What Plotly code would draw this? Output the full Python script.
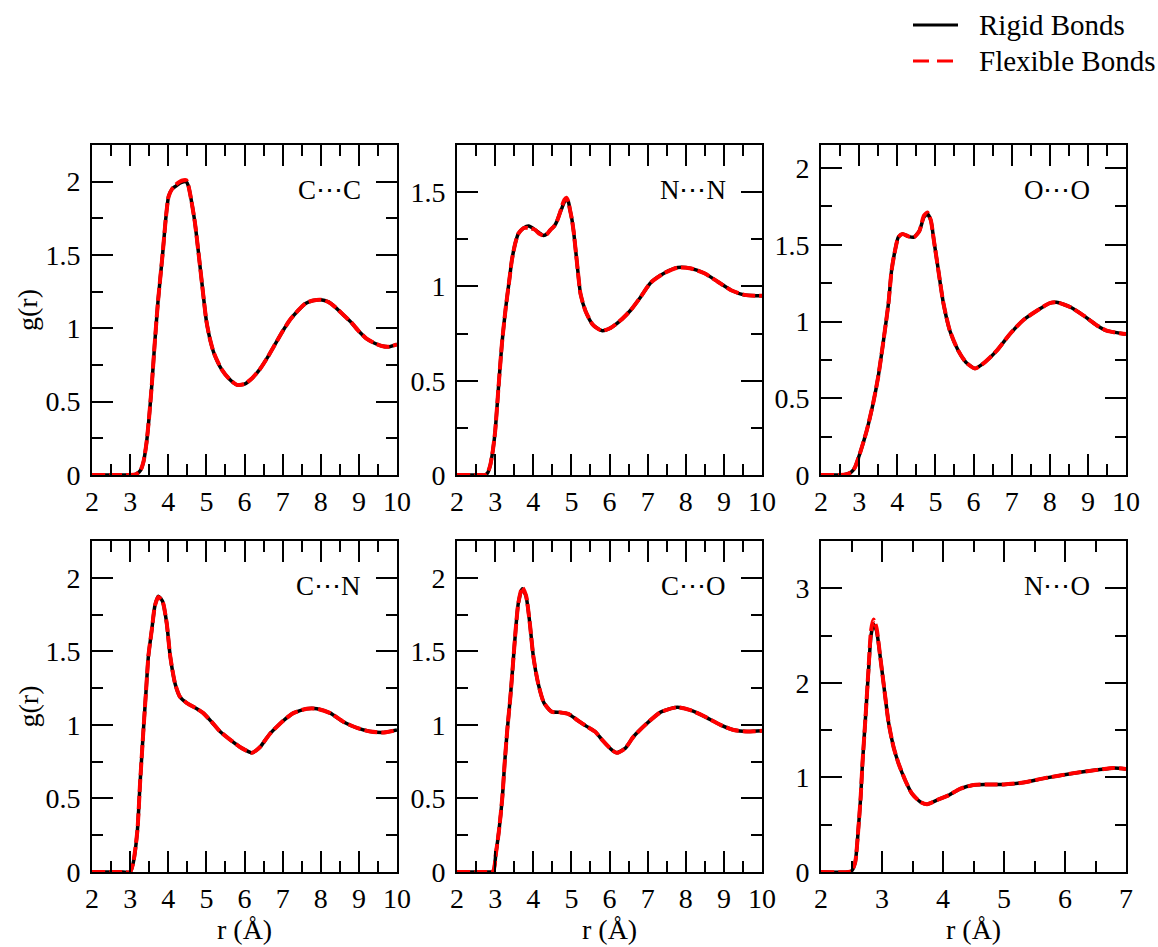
import plotly.graph_objects as go

# ---------------- data ----------------
panel_labels = ["C⋯C", "N⋯N", "O⋯O", "C⋯N", "C⋯O", "N⋯O"]

r_cc = [2.0, 2.6, 3.0, 3.15, 3.27, 3.35, 3.43, 3.5, 3.57, 3.64, 3.73, 3.85, 3.94, 4.01, 4.1, 4.2, 4.3, 4.4, 4.47,
        4.53, 4.6, 4.7, 4.8, 4.9, 5.0, 5.1, 5.2, 5.4, 5.6, 5.8, 6.0, 6.2, 6.4, 6.6, 6.8, 7.0, 7.2, 7.4, 7.6, 7.8,
        8.0, 8.2, 8.4, 8.6, 8.8, 9.0, 9.2, 9.4, 9.6, 9.8, 10.0]
g_cc_rigid = [0, 0, 0, 0.005, 0.03, 0.09, 0.22, 0.40, 0.62, 0.88, 1.18, 1.50, 1.76, 1.90, 1.95, 1.97, 1.99, 2.0, 2.0,
              1.97, 1.88, 1.72, 1.50, 1.27, 1.05, 0.92, 0.83, 0.72, 0.655, 0.615, 0.62, 0.66, 0.72, 0.80, 0.89, 0.98,
              1.06, 1.12, 1.17, 1.19, 1.195, 1.18, 1.14, 1.09, 1.04, 0.98, 0.93, 0.90, 0.88, 0.875, 0.89]
g_cc_flex = [0, 0, 0, 0.005, 0.03, 0.09, 0.22, 0.40, 0.62, 0.88, 1.18, 1.50, 1.76, 1.90, 1.95, 1.98, 2.0, 2.01, 2.01,
             1.97, 1.88, 1.72, 1.50, 1.27, 1.05, 0.92, 0.83, 0.72, 0.655, 0.615, 0.62, 0.66, 0.72, 0.80, 0.89, 0.98,
             1.06, 1.12, 1.17, 1.19, 1.195, 1.18, 1.14, 1.09, 1.04, 0.98, 0.93, 0.90, 0.88, 0.875, 0.89]

r_nn = [2.0, 2.6, 2.74, 2.8, 2.87, 2.94, 3.0, 3.09, 3.18, 3.28, 3.37, 3.44, 3.53, 3.61, 3.75, 3.88, 4.05, 4.15, 4.27,
        4.37, 4.45, 4.55, 4.63, 4.7, 4.76, 4.82, 4.87, 4.92, 4.96, 5.01, 5.06, 5.15, 5.24, 5.37, 5.55, 5.7, 5.81,
        6.03, 6.29, 6.56, 6.82, 7.08, 7.43, 7.79, 8.14, 8.49, 8.84, 9.19, 9.54, 10.0]
g_nn_rigid = [0, 0, 0, 0.01, 0.05, 0.13, 0.23, 0.47, 0.70, 0.89, 1.03, 1.14, 1.23, 1.28, 1.31, 1.32, 1.30, 1.285,
              1.27, 1.28, 1.30, 1.32, 1.35, 1.39, 1.42, 1.45, 1.46, 1.45, 1.41, 1.36, 1.29, 1.12, 0.96, 0.87, 0.80,
              0.775, 0.765, 0.78, 0.82, 0.875, 0.945, 1.02, 1.07, 1.10, 1.095, 1.07, 1.025, 0.98, 0.955, 0.95]
g_nn_flex = [0, 0, 0, 0.01, 0.05, 0.13, 0.23, 0.47, 0.70, 0.89, 1.03, 1.14, 1.23, 1.28, 1.31, 1.31, 1.30, 1.28,
             1.27, 1.28, 1.30, 1.32, 1.35, 1.39, 1.43, 1.46, 1.47, 1.45, 1.41, 1.36, 1.29, 1.12, 0.96, 0.87, 0.80,
             0.775, 0.765, 0.78, 0.82, 0.875, 0.945, 1.02, 1.07, 1.10, 1.095, 1.07, 1.025, 0.98, 0.955, 0.95]

r_oo = [2.0, 2.5, 2.67, 2.8, 2.89, 3.02, 3.2, 3.37, 3.5, 3.63, 3.77, 3.85, 3.94, 4.03, 4.14, 4.29, 4.44, 4.58, 4.7,
        4.79, 4.88, 4.96, 5.08, 5.21, 5.38, 5.6, 5.8, 6.04, 6.26, 6.61, 6.96, 7.31, 7.66, 8.0, 8.18, 8.53, 8.88,
        9.23, 9.49, 9.93, 10.0]
g_oo_rigid = [0, 0, 0.005, 0.02, 0.05, 0.14, 0.29, 0.47, 0.64, 0.86, 1.12, 1.33, 1.46, 1.55, 1.57, 1.555, 1.55,
              1.59, 1.68, 1.70, 1.66, 1.53, 1.33, 1.12, 0.94, 0.81, 0.735, 0.694, 0.727, 0.81, 0.92, 1.01, 1.07,
              1.12, 1.125, 1.095, 1.04, 0.976, 0.94, 0.92, 0.918]
g_oo_flex = [0, 0, 0.005, 0.02, 0.05, 0.14, 0.29, 0.47, 0.64, 0.86, 1.12, 1.33, 1.46, 1.55, 1.57, 1.555, 1.55,
             1.59, 1.69, 1.71, 1.66, 1.53, 1.33, 1.12, 0.94, 0.81, 0.735, 0.694, 0.727, 0.81, 0.92, 1.01, 1.07,
             1.12, 1.125, 1.095, 1.04, 0.976, 0.94, 0.92, 0.918]

r_cn = [2.0, 2.8, 3.0, 3.08, 3.19, 3.26, 3.35, 3.42, 3.48, 3.57, 3.65, 3.74, 3.85, 3.96, 4.05, 4.18, 4.31, 4.48,
        4.75, 4.92, 5.14, 5.36, 5.62, 5.88, 6.05, 6.19, 6.3, 6.41, 6.67, 6.98, 7.28, 7.63, 7.9, 8.25, 8.6, 8.95,
        9.3, 9.65, 10.0]
g_cn_rigid = [0, 0, 0, 0.06, 0.28, 0.60, 0.97, 1.24, 1.47, 1.65, 1.81, 1.875, 1.84, 1.69, 1.47, 1.28, 1.19, 1.15,
              1.11, 1.08, 1.02, 0.955, 0.90, 0.85, 0.825, 0.81, 0.825, 0.85, 0.94, 1.02, 1.08, 1.11, 1.11, 1.08,
              1.02, 0.98, 0.955, 0.948, 0.965]
g_cn_flex = [0, 0, 0, 0.06, 0.28, 0.60, 0.97, 1.24, 1.47, 1.65, 1.81, 1.87, 1.84, 1.69, 1.47, 1.28, 1.19, 1.15,
             1.11, 1.08, 1.02, 0.955, 0.90, 0.85, 0.825, 0.81, 0.825, 0.85, 0.94, 1.02, 1.08, 1.11, 1.11, 1.08,
             1.02, 0.98, 0.955, 0.948, 0.965]

r_co = [2.0, 2.8, 2.95, 3.02, 3.1, 3.19, 3.25, 3.32, 3.4, 3.47, 3.54, 3.61, 3.71, 3.81, 3.91, 4.0, 4.13, 4.28,
        4.48, 4.7, 4.92, 5.14, 5.4, 5.62, 5.8, 6.06, 6.19, 6.41, 6.63, 6.98, 7.33, 7.77, 8.12, 8.47, 8.91, 9.26,
        9.61, 10.0]
g_co_rigid = [0, 0, 0.005, 0.125, 0.28, 0.51, 0.74, 0.97, 1.19, 1.42, 1.65, 1.83, 1.925, 1.875, 1.69, 1.47, 1.28,
              1.15, 1.09, 1.085, 1.075, 1.035, 0.99, 0.955, 0.90, 0.83, 0.81, 0.84, 0.92, 1.01, 1.085, 1.12, 1.10,
              1.06, 1.0, 0.965, 0.955, 0.96]
g_co_flex = [0, 0, 0.005, 0.125, 0.28, 0.51, 0.74, 0.97, 1.19, 1.42, 1.65, 1.83, 1.935, 1.88, 1.69, 1.47, 1.28,
             1.15, 1.09, 1.085, 1.075, 1.035, 0.99, 0.955, 0.90, 0.83, 0.81, 0.84, 0.92, 1.01, 1.085, 1.12, 1.10,
             1.06, 1.0, 0.965, 0.955, 0.96]

r_no = [2.0, 2.45, 2.5, 2.56, 2.61, 2.65, 2.68, 2.73, 2.78, 2.82, 2.86, 2.91, 2.97, 3.04, 3.11, 3.19, 3.27,
        3.38, 3.49, 3.63, 3.74, 3.9, 4.09, 4.28, 4.5, 4.72, 5.0, 5.32, 5.65, 6.09, 6.53, 6.8, 7.0]
g_no_rigid = [0, 0, 0.01, 0.1, 0.44, 0.79, 1.15, 1.64, 2.14, 2.50, 2.62, 2.55, 2.28, 1.92, 1.57, 1.32, 1.15,
              0.97, 0.83, 0.74, 0.717, 0.76, 0.81, 0.88, 0.92, 0.925, 0.925, 0.946, 0.99, 1.04, 1.08, 1.10, 1.09]
g_no_flex = [0, 0, 0.01, 0.1, 0.44, 0.79, 1.15, 1.64, 2.16, 2.55, 2.67, 2.58, 2.28, 1.92, 1.57, 1.32, 1.15,
             0.97, 0.83, 0.74, 0.717, 0.76, 0.81, 0.88, 0.92, 0.925, 0.925, 0.946, 0.99, 1.04, 1.08, 1.10, 1.09]

series_names = ["Rigid Bonds", "Flexible Bonds"]
series_colors = ["black", "#ff0000"]
series_dash = ["solid", "16px,8px"]
panels = [
    (r_cc, g_cc_rigid, g_cc_flex),
    (r_nn, g_nn_rigid, g_nn_flex),
    (r_oo, g_oo_rigid, g_oo_flex),
    (r_cn, g_cn_rigid, g_cn_flex),
    (r_co, g_co_rigid, g_co_flex),
    (r_no, g_no_rigid, g_no_flex),
]
x_ranges = [[2, 10], [2, 10], [2, 10], [2, 10], [2, 10], [2, 7]]
y_ranges = [[0, 2.25], [0, 1.75], [0, 2.15], [0, 2.25], [0, 2.25], [0, 3.5]]
y_dticks = [0.5, 0.5, 0.5, 0.5, 0.5, 1.0]

# ---------------- layout geometry ----------------
W, H = 1158, 947
col_px = [(92, 397), (457, 762), (821, 1126)]
row_px = [(145, 475), (541, 872)]
FONT = "Liberation Serif, Times New Roman, serif"

fig = go.Figure()
for i, (r, g_rig, g_flex) in enumerate(panels):
    ax = "" if i == 0 else str(i + 1)
    fig.add_trace(go.Scatter(x=r, y=g_rig, mode="lines", name=series_names[0],
                             line=dict(color=series_colors[0], width=3.5, shape="spline", smoothing=0.6),
                             xaxis="x" + ax, yaxis="y" + ax, showlegend=False))
    fig.add_trace(go.Scatter(x=r, y=g_flex, mode="lines", name=series_names[1],
                             line=dict(color=series_colors[1], width=4, dash="13px,4px", shape="spline",
                                       smoothing=0.6),
                             xaxis="x" + ax, yaxis="y" + ax, showlegend=False))

layout = dict(
    width=W, height=H, margin=dict(l=0, r=0, t=0, b=0),
    paper_bgcolor="white", plot_bgcolor="white",
    font=dict(family=FONT, size=27, color="black"),
    showlegend=False,
    annotations=[], shapes=[],
)

for i in range(6):
    row, col = divmod(i, 3)
    x0, x1 = col_px[col]
    yt, yb = row_px[row]
    ax = "" if i == 0 else str(i + 1)
    common = dict(showline=True, linecolor="black", linewidth=2, mirror="allticks",
                  ticks="inside", ticklen=21, tickwidth=2, tickcolor="black",
                  showgrid=False, zeroline=False, automargin=False,
                  tickfont=dict(family=FONT, size=28, color="black"))
    layout["xaxis" + ax] = dict(common, domain=[x0 / W, x1 / W], range=x_ranges[i], dtick=1, tick0=0,
                                anchor="y" + ax,
                                minor=dict(dtick=0.5, ticks="inside", ticklen=11, tickwidth=2, tickcolor="black"))
    layout["yaxis" + ax] = dict(common, domain=[1 - yb / H, 1 - yt / H], range=y_ranges[i], dtick=y_dticks[i],
                                tick0=0, anchor="x" + ax, ticklabelstandoff=4,
                                minor=dict(dtick=y_dticks[i] / 2, ticks="inside", ticklen=11, tickwidth=2,
                                           tickcolor="black"))
    layout["annotations"].append(dict(text=panel_labels[i], xref="x" + ax + " domain", yref="y" + ax + " domain",
                                      x=1 - 34 / 305, y=1 - 45 / 330, xanchor="right", yanchor="middle",
                                      showarrow=False, font=dict(family=FONT, size=27, color="black")))

# axis titles
for row in range(2):
    yt, yb = row_px[row]
    layout["annotations"].append(dict(text="g(r)", xref="paper", yref="paper", x=28 / W, y=1 - (yt + yb) / 2 / H,
                                      textangle=-90, xanchor="center", yanchor="middle", showarrow=False,
                                      font=dict(family=FONT, size=28, color="black")))
for col in range(3):
    x0, x1 = col_px[col]
    layout["annotations"].append(dict(text="r (Å)", xref="paper", yref="paper", x=(x0 + x1) / 2 / W,
                                      y=1 - 929 / H, xanchor="center", yanchor="middle", showarrow=False,
                                      font=dict(family=FONT, size=28, color="black")))

# legend (drawn as key lines + labels in the top-right corner)
legend_rows_px = [25, 61]
for k in range(2):
    yk = 1 - legend_rows_px[k] / H
    layout["shapes"].append(dict(type="line", xref="paper", yref="paper", x0=913 / W, x1=(958 if k == 0 else 953) / W,
                                 y0=yk, y1=yk, line=dict(color=series_colors[k], width=3, dash=series_dash[k])))
    layout["annotations"].append(dict(text=series_names[k], xref="paper", yref="paper", x=977 / W, y=yk,
                                      xanchor="left", yanchor="middle", showarrow=False,
                                      font=dict(family=FONT, size=29, color="black")))

fig.update_layout(**layout)
fig.write_html("out.html", config={"displayModeBar": False},
               post_script="document.body.style.margin='0';document.body.style.overflow='hidden';")
